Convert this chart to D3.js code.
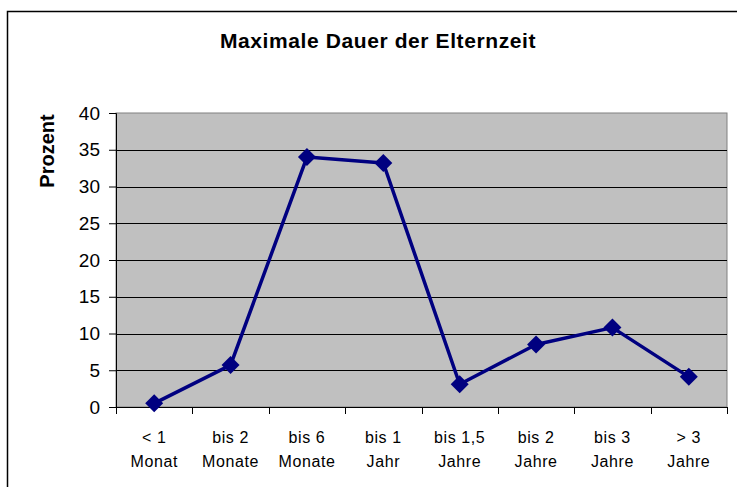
<!DOCTYPE html>
<html>
<head>
<meta charset="utf-8">
<script src="https://cdn.jsdelivr.net/npm/d3@7"></script>
<style>
  body { margin: 0; background: #fff; }
  svg { display: block; font-family: Arial, "Liberation Sans", sans-serif; }
</style>
</head>
<body>
<div id="container"></div>
<script>
const categories = [['< 1', 'Monat'], ['bis 2', 'Monate'], ['bis 6', 'Monate'], ['bis 1', 'Jahr'],
    ['bis 1,5', 'Jahre'], ['bis 2', 'Jahre'], ['bis 3', 'Jahre'], ['> 3', 'Jahre']];
const values = [0.5, 5.7, 34.0, 33.2, 3.1, 8.5, 10.8, 4.1];
const yTicks = [0, 5, 10, 15, 20, 25, 30, 35, 40];

const width = 737, height = 487;
const plot = { left: 116, right: 727, top: 113, bottom: 407 };
const font = 'Arial, "Liberation Sans", sans-serif';

const svg = d3.select('#container')
    .append('svg')
    .attr('width', width)
    .attr('height', height);

// chart frame
svg.append('rect')
    .attr('x', 7.5).attr('y', 11.5)
    .attr('width', 800).attr('height', 600)
    .attr('fill', '#fff')
    .attr('stroke', '#000')
    .attr('stroke-width', 1.5);

svg.append('text')
    .attr('x', 378).attr('y', 48)
    .attr('text-anchor', 'middle')
    .attr('font-size', 21)
    .attr('font-weight', 'bold')
    .attr('letter-spacing', 0.6)
    .text('Maximale Dauer der Elternzeit');

const x = d3.scaleBand()
    .domain(d3.range(categories.length))
    .range([plot.left, plot.right]);
const y = d3.scaleLinear()
    .domain([0, 40])
    .range([plot.bottom, plot.top]);

svg.append('rect')
    .attr('x', plot.left).attr('y', plot.top)
    .attr('width', plot.right - plot.left)
    .attr('height', plot.bottom - plot.top)
    .attr('fill', '#c0c0c0')
    .attr('stroke', '#808080');

// gridlines
svg.append('g')
    .selectAll('line')
    .data(yTicks.filter(t => t > 0 && t < 40))
    .enter()
    .append('line')
    .attr('x1', plot.left).attr('x2', plot.right)
    .attr('y1', d => Math.round(y(d)) + 0.5)
    .attr('y2', d => Math.round(y(d)) + 0.5)
    .attr('stroke', '#000')
    .attr('stroke-width', 1);

// y axis
const yAxis = svg.append('g')
    .attr('transform', `translate(${plot.left},0)`)
    .call(d3.axisLeft(y).tickValues(yTicks).tickSize(7).tickPadding(9));
yAxis.select('.domain').attr('stroke', '#000');
yAxis.selectAll('text')
    .attr('font-size', 19)
    .attr('fill', '#000')
    .attr('font-family', font);

// x axis
const xTickPos = d3.range(categories.length + 1).map(i => plot.left + i * x.bandwidth());
const xAxisG = svg.append('g');
xAxisG.append('line')
    .attr('x1', plot.left).attr('x2', plot.right)
    .attr('y1', plot.bottom + 0.5).attr('y2', plot.bottom + 0.5)
    .attr('stroke', '#000');
xAxisG.selectAll('line.tick')
    .data(xTickPos)
    .enter()
    .append('line')
    .attr('class', 'tick')
    .attr('x1', d => Math.round(d) + 0.5).attr('x2', d => Math.round(d) + 0.5)
    .attr('y1', plot.bottom).attr('y2', plot.bottom + 7)
    .attr('stroke', '#000');

const labels = svg.append('g')
    .selectAll('text')
    .data(categories)
    .enter()
    .append('text')
    .attr('text-anchor', 'middle')
    .attr('font-size', 16)
    .attr('letter-spacing', 0.6);
labels.append('tspan')
    .attr('x', (_, i) => x(i) + x.bandwidth() / 2)
    .attr('y', 443)
    .text(d => d[0]);
labels.append('tspan')
    .attr('x', (_, i) => x(i) + x.bandwidth() / 2)
    .attr('y', 467)
    .text(d => d[1]);

svg.append('text')
    .attr('transform', 'translate(54,151) rotate(-90)')
    .attr('text-anchor', 'middle')
    .attr('font-size', 20)
    .attr('font-weight', 'bold')
    .text('Prozent');

// series
const cx = i => x(i) + x.bandwidth() / 2;
svg.append('path')
    .datum(values)
    .attr('fill', 'none')
    .attr('stroke', '#000080')
    .attr('stroke-width', 3.5)
    .attr('stroke-linejoin', 'round')
    .attr('d', d3.line().x((_, i) => cx(i)).y(d => y(d)));

svg.append('g')
    .selectAll('path')
    .data(values)
    .enter()
    .append('path')
    .attr('transform', (d, i) => `translate(${cx(i)},${y(d)})`)
    .attr('d', 'M0,-9L9,0L0,9L-9,0Z')
    .attr('fill', '#000080');
</script>
</body>
</html>
